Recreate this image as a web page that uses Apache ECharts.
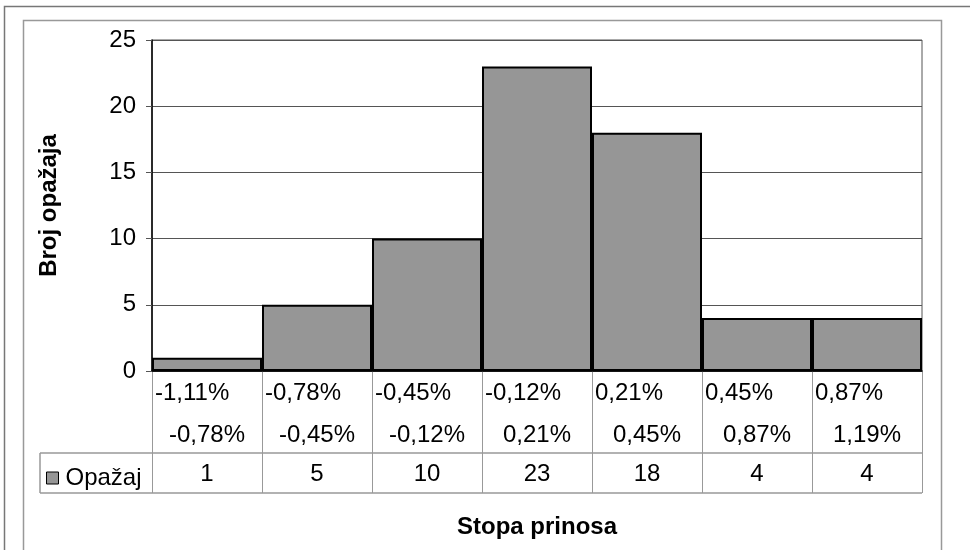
<!DOCTYPE html>
<html>
<head>
<meta charset="utf-8">
<script src="https://cdn.jsdelivr.net/npm/echarts@6/dist/echarts.min.js"></script>
<style>
  html, body { margin: 0; padding: 0; background: #fff; }
  #chart { width: 970px; height: 550px; }
</style>
</head>
<body>
<div id="chart"></div>
<script>
// Histogram of return rates: bin bounds and observation counts
const binFrom = ['-1,11%', '-0,78%', '-0,45%', '-0,12%', '0,21%', '0,45%', '0,87%'];
const binTo = ['-0,78%', '-0,45%', '-0,12%', '0,21%', '0,45%', '0,87%', '1,19%'];
const counts = [1, 5, 10, 23, 18, 4, 4];
const seriesName = 'Opažaj';
const yMin = 0, yMax = 25, yStep = 5;

// layout of the plot and the data table under it
const plotLeft = 152, plotRight = 922, plotTop = 40, plotBottom = 371;
const tableSplit = 453, tableBottom = 493, keyLeft = 40;

const FONT = '"Liberation Sans", Arial, sans-serif';
const chart = echarts.init(document.getElementById('chart'));

chart.setOption({
  animation: false,
  backgroundColor: '#fff',
  textStyle: { fontFamily: FONT, color: '#000' },
  grid: [
    { left: plotLeft, top: plotTop, width: plotRight - plotLeft, height: plotBottom - plotTop,
      show: true, borderColor: '#555', borderWidth: 1, backgroundColor: 'transparent' },
    { left: plotLeft, top: plotBottom, width: plotRight - plotLeft, height: tableBottom - plotBottom }
  ],
  legend: {
    data: [seriesName],
    left: 41, top: 461,
    icon: 'rect', itemWidth: 12, itemHeight: 12,
    itemStyle: { borderWidth: 1, borderColor: '#000' },
    textStyle: { fontFamily: FONT, fontSize: 24, color: '#000', padding: [0, 0, 0, 2] },
    selectedMode: false
  },
  xAxis: [
    {
      type: 'category', gridIndex: 0, data: binFrom,
      axisLine: { lineStyle: { color: '#000', width: 1.5 } },
      axisTick: { show: false },
      splitLine: { show: false },
      axisLabel: {
        interval: 0, margin: 1,
        formatter: (v, i) => '{a|' + binFrom[i] + '}\n{b|' + binTo[i] + '}',
        rich: {
          a: { width: 104, align: 'left', fontSize: 24, lineHeight: 42, fontFamily: FONT, color: '#000' },
          b: { width: 104, align: 'center', fontSize: 24, lineHeight: 42, fontFamily: FONT, color: '#000' }
        }
      }
    },
    {
      type: 'category', gridIndex: 1, data: binFrom, position: 'bottom',
      axisLine: { show: false },
      axisTick: { show: false },
      splitLine: { show: true, lineStyle: { color: '#999', width: 1 } },
      axisLabel: {
        interval: 0, inside: true, margin: 7,
        fontSize: 24, fontFamily: FONT, color: '#000',
        formatter: (v, i) => String(counts[i])
      },
      name: 'Stopa prinosa', nameLocation: 'middle', nameGap: 22,
      nameTextStyle: { fontSize: 24, fontWeight: 'bold', fontFamily: FONT, color: '#000' }
    }
  ],
  yAxis: [
    {
      type: 'value', gridIndex: 0, min: yMin, max: yMax, interval: yStep,
      axisLine: { show: true, lineStyle: { color: '#000', width: 1.5 } },
      axisTick: { show: true, length: 6, lineStyle: { color: '#555' } },
      splitLine: { show: true, lineStyle: { color: '#555', width: 1 } },
      axisLabel: { fontSize: 24, fontFamily: FONT, color: '#000', margin: 16 },
      name: 'Broj opažaja', nameLocation: 'middle', nameGap: 91, nameRotate: 90,
      nameTextStyle: { fontSize: 24, fontWeight: 'bold', fontFamily: FONT, color: '#000' }
    },
    { type: 'value', gridIndex: 1, show: false }
  ],
  series: [{
    name: seriesName, type: 'bar', xAxisIndex: 0, yAxisIndex: 0,
    data: counts, barCategoryGap: '0%',
    itemStyle: { color: '#969696', borderColor: '#000', borderWidth: 2 }
  }],
  graphic: [
    // chart frames
    { type: 'rect', shape: { x: 4.5, y: 6.5, width: 1000, height: 600 },
      style: { fill: 'none', stroke: '#777', lineWidth: 1.5 }, silent: true },
    { type: 'rect', shape: { x: 23.5, y: 20.5, width: 918, height: 600 },
      style: { fill: 'none', stroke: '#999', lineWidth: 1.5 }, silent: true },
    // data table rules
    { type: 'line', shape: { x1: keyLeft, y1: tableSplit, x2: plotRight, y2: tableSplit },
      style: { stroke: '#999', lineWidth: 1.5 }, silent: true },
    { type: 'line', shape: { x1: keyLeft, y1: tableBottom, x2: plotRight, y2: tableBottom },
      style: { stroke: '#999', lineWidth: 1.5 }, silent: true },
    { type: 'line', shape: { x1: keyLeft, y1: tableSplit, x2: keyLeft, y2: tableBottom },
      style: { stroke: '#999', lineWidth: 1.5 }, silent: true }
  ]
});
</script>
</body>
</html>
